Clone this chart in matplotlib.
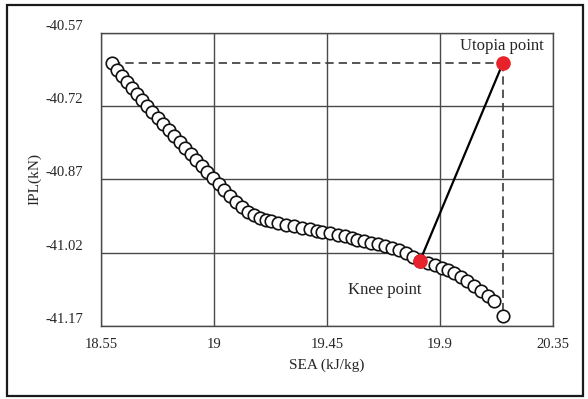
import matplotlib
matplotlib.use("Agg")
import matplotlib.pyplot as plt
from matplotlib.patches import Rectangle

# Pareto front: SEA (kJ/kg) vs IPL (kN)
sea = [18.594, 18.614, 18.634, 18.654, 18.673, 18.693, 18.713, 18.733,
       18.753, 18.777, 18.797, 18.821, 18.841, 18.865, 18.885, 18.908,
       18.928, 18.952, 18.972, 18.996, 19.020, 19.040, 19.064, 19.088,
       19.112, 19.135, 19.159, 19.183, 19.207, 19.227, 19.255, 19.287,
       19.319, 19.350, 19.382, 19.410, 19.430, 19.462, 19.494, 19.522,
       19.550, 19.570, 19.597, 19.625, 19.653, 19.681, 19.709, 19.737,
       19.765, 19.792, 19.820, 19.852, 19.880, 19.908, 19.932, 19.956,
       19.984, 20.008, 20.035, 20.063, 20.091, 20.115, 20.151]
ipl = [-40.631, -40.646, -40.658, -40.670, -40.683, -40.695, -40.707, -40.720,
       -40.732, -40.744, -40.756, -40.769, -40.781, -40.793, -40.806, -40.818,
       -40.830, -40.842, -40.855, -40.867, -40.879, -40.892, -40.904, -40.916,
       -40.926, -40.937, -40.943, -40.949, -40.953, -40.955, -40.959, -40.963,
       -40.965, -40.969, -40.971, -40.976, -40.978, -40.980, -40.984, -40.986,
       -40.990, -40.994, -40.996, -41.000, -41.002, -41.006, -41.010, -41.014,
       -41.021, -41.029, -41.037, -41.041, -41.045, -41.051, -41.055, -41.061,
       -41.070, -41.078, -41.088, -41.098, -41.109, -41.119, -41.150]
knee_idx = 50

xticks = [18.55, 19, 19.45, 19.9, 20.35]
xtick_labels = ["18.55", "19", "19.45", "19.9", "20.35"]
yticks = [-41.17, -41.02, -40.87, -40.72, -40.57]
ytick_labels = ["-41.17", "-41.02", "-40.87", "-40.72", "-40.57"]

plt.rcParams["font.family"] = "Liberation Serif"
txt = "#262626"

fig = plt.figure(figsize=(5.88, 3.99), dpi=100)
ax = fig.add_axes([0.1718, 0.1830, 0.7687, 0.7343])

# outer frame round the whole picture
fig.patches.append(Rectangle((0.0119, 0.0075), 0.9796, 0.98, transform=fig.transFigure,
                             fill=False, edgecolor="#1a1a1a", linewidth=1.6))

ux, uy = max(sea), max(ipl)

ax.plot([sea[0], ux], [uy, uy], color="#3a3a3a", linestyle=(0, (5, 3)), linewidth=1.2, zorder=2)
ax.plot([ux, ux], [uy, ipl[-1]], color="#3a3a3a", linestyle=(0, (5, 3)), linewidth=1.2, zorder=2)

ax.plot(sea, ipl, linestyle="none", marker="o", markersize=9, markerfacecolor="white",
        markeredgecolor="#111111", markeredgewidth=1.2, zorder=3)

ax.plot([ux, sea[knee_idx]], [uy, ipl[knee_idx]], color="black", linewidth=1.6, zorder=4)
ax.plot([ux, sea[knee_idx]], [uy, ipl[knee_idx]], linestyle="none", marker="o",
        markersize=9.5, color="#e8222a", zorder=5)

ax.annotate("Utopia point", (ux, uy), xytext=(-1, 12), textcoords="offset points",
            ha="center", va="center", fontsize=12, color=txt)
ax.annotate("Knee point", (sea[knee_idx], ipl[knee_idx]), xytext=(-25, -21),
            textcoords="offset points", ha="center", va="center", fontsize=12, color=txt)

ax.set_xlim(18.55, 20.35)
ax.set_ylim(-41.17, -40.57)
ax.set_xticks(xticks)
ax.set_xticklabels(xtick_labels)
ax.set_yticks(yticks)
ax.set_yticklabels(ytick_labels, va="bottom")
ax.tick_params(axis="both", length=0, labelsize=10.5, labelcolor=txt)
ax.tick_params(axis="x", pad=9)
ax.tick_params(axis="y", pad=13)
ax.grid(True, color="#4a4a4a", linewidth=1.0)
ax.set_axisbelow(True)
for s in ax.spines.values():
    s.set_color("#4a4a4a")
    s.set_linewidth(1.0)

ax.set_xlabel("SEA (kJ/kg)", fontsize=11, color=txt, labelpad=5)
ax.set_ylabel("IPL(kN)", fontsize=11, color=txt, labelpad=3)

fig.savefig("out.png", dpi=100)
